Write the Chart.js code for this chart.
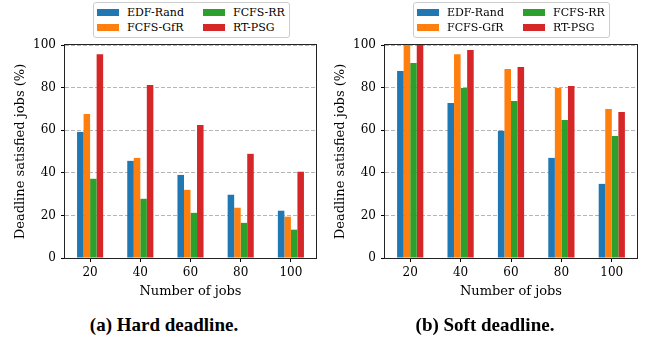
<!DOCTYPE html>
<html lang="en">
<head>
    <meta charset="UTF-8">
    <title>Deadline satisfied jobs</title>
    <style>
        body {
            margin: 0;
            background-color: #ffffff;
            font-family: 'DejaVu Serif', serif;
        }
        .page {
            position: relative;
            width: 649px;
            height: 339px;
            overflow: hidden;
        }
        canvas {
            position: absolute;
            top: 0;
        }
        #hardChart { left: 0; }
        #softChart { left: 320px; }
        .legend {
            position: absolute;
            top: 2px;
            width: 195px;
            height: 34px;
            border: 1px solid #cccccc;
            border-radius: 3px;
            background: #ffffff;
            font-size: 11px;
            color: #000;
        }
        .legend-item {
            position: absolute;
            height: 14px;
            line-height: 14px;
            white-space: nowrap;
        }
        .legend-item .swatch {
            position: absolute;
            left: 0;
            top: 3px;
            width: 22px;
            height: 7px;
        }
        .legend-item .label {
            position: absolute;
            left: 30px;
            top: 0;
        }
        .caption {
            position: absolute;
            top: 314px;
            width: 320px;
            text-align: center;
            font-family: 'Liberation Serif', serif;
            font-weight: bold;
            font-size: 19px;
        }
    </style>
</head>
<body>
    <div class="page">
        <canvas id="hardChart" width="325" height="305"></canvas>
        <canvas id="softChart" width="329" height="305"></canvas>

        <div class="legend" id="hardLegend" style="left: 93px;"></div>
        <div class="legend" id="softLegend" style="left: 413px;"></div>

        <div class="caption" style="left: 4px;">(a) Hard deadline.</div>
        <div class="caption" style="left: 325px;">(b) Soft deadline.</div>
    </div>

    <script src="https://cdn.jsdelivr.net/npm/chart.js"></script>
    <script>
        // Data
        const jobCounts = ['20', '40', '60', '80', '100'];
        const methods = ['EDF-Rand', 'FCFS-GfR', 'FCFS-RR', 'RT-PSG'];
        const methodColors = ['#1f77b4', '#ff7f0e', '#2ca02c', '#d62728'];
        const yTicks = [0, 20, 40, 60, 80, 100];

        // (a) hard deadline
        const hardEdfRand = [59.2, 45.6, 39.0, 29.7, 22.2];
        const hardFcfsGfr = [67.6, 47.0, 32.0, 23.6, 19.4];
        const hardFcfsRr = [37.2, 27.8, 21.2, 16.5, 13.3];
        const hardRtPsg = [95.7, 81.2, 62.5, 48.9, 40.5];

        // (b) soft deadline
        const softEdfRand = [87.8, 72.8, 59.7, 47.0, 34.8];
        const softFcfsGfr = [100, 95.7, 88.7, 79.8, 70.0];
        const softFcfsRr = [91.5, 79.8, 73.7, 64.8, 57.3];
        const softRtPsg = [100, 97.6, 89.7, 80.7, 68.6];

        const FONT = 'DejaVu Serif';

        // black frame round the plot area, like matplotlib spines
        const framePlugin = {
            id: 'frame',
            afterDraw(chart) {
                const a = chart.chartArea;
                const ctx = chart.ctx;
                ctx.save();
                ctx.strokeStyle = '#222';
                ctx.lineWidth = 1;
                ctx.strokeRect(a.left - 0.5, a.top - 0.5, a.right - a.left + 1, a.bottom - a.top + 1);
                ctx.restore();
            }
        };

        function makeChart(canvasId, series, rightPad) {
            return new Chart(document.getElementById(canvasId), {
                type: 'bar',
                data: {
                    labels: jobCounts,
                    datasets: methods.map((name, i) => ({
                        label: name,
                        data: series[i],
                        backgroundColor: methodColors[i],
                        borderWidth: 0,
                        categoryPercentage: 0.52,
                        barPercentage: 1.0
                    }))
                },
                options: {
                    responsive: false,
                    animation: false,
                    layout: {
                        padding: { top: 45, right: rightPad, left: 0, bottom: 0 }
                    },
                    plugins: {
                        legend: { display: false },
                        tooltip: { enabled: false }
                    },
                    scales: {
                        x: {
                            afterFit: s => { s.height = 47; },
                            grid: {
                                offset: false,
                                drawOnChartArea: false,
                                drawTicks: true,
                                tickLength: 4,
                                tickColor: '#000',
                                tickWidth: 1,
                                tickBorderDash: []
                            },
                            border: { display: false },
                            ticks: {
                                color: '#000',
                                padding: 4,
                                font: { family: FONT, size: 12 }
                            },
                            title: {
                                display: true,
                                text: 'Number of jobs',
                                color: '#000',
                                font: { family: FONT, size: 13 },
                                padding: { top: 0, bottom: 6 }
                            }
                        },
                        y: {
                            min: 0,
                            max: 100,
                            afterFit: s => { s.width = 65; },
                            afterBuildTicks: s => { s.ticks = yTicks.map(v => ({ value: v })); },
                            grid: {
                                color: '#b5b5b5',
                                lineWidth: 1,
                                drawTicks: true,
                                tickLength: 4,
                                tickColor: '#000',
                                tickWidth: 1,
                                tickBorderDash: []
                            },
                            border: { display: false, dash: [4, 2] },
                            ticks: {
                                color: '#000',
                                padding: 5,
                                font: { family: FONT, size: 12 }
                            },
                            title: {
                                display: true,
                                text: 'Deadline satisfied jobs (%)',
                                color: '#000',
                                font: { family: FONT, size: 13 },
                                padding: { top: 13, bottom: 0 }
                            }
                        }
                    }
                },
                plugins: [framePlugin]
            });
        }

        // legend in matplotlib's two-column order
        function buildLegend(id) {
            const box = document.getElementById(id);
            const spots = [[3, 3], [3, 18], [109, 3], [109, 18]];
            methods.forEach((name, i) => {
                const item = document.createElement('div');
                item.className = 'legend-item';
                item.style.left = spots[i][0] + 'px';
                item.style.top = spots[i][1] + 'px';
                item.innerHTML = `<span class="swatch" style="background:${methodColors[i]}"></span><span class="label">${name}</span>`;
                box.appendChild(item);
            });
        }

        makeChart('hardChart', [hardEdfRand, hardFcfsGfr, hardFcfsRr, hardRtPsg], 9);
        makeChart('softChart', [softEdfRand, softFcfsGfr, softFcfsRr, softRtPsg], 12);
        buildLegend('hardLegend');
        buildLegend('softLegend');
    </script>
</body>
</html>
